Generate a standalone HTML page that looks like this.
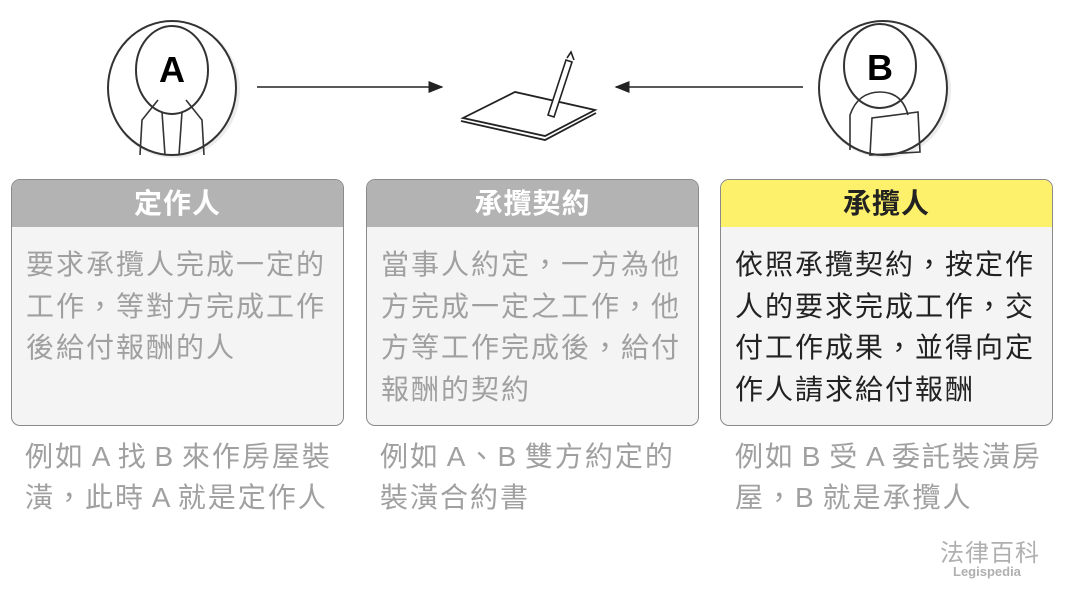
<!DOCTYPE html>
<html><head><meta charset="utf-8"><style>
body{margin:0;width:1065px;height:592px;background:#fff;position:relative;overflow:hidden;font-family:"Liberation Sans","Noto Sans CJK TC",sans-serif}
.box{position:absolute;top:179px;width:333px;height:247px;border:1.5px solid #8a8a8a;border-radius:9px;overflow:hidden;background:#f4f4f4;box-sizing:border-box}
.hd{height:47px;background:#b3b3b3;color:#fff;font-weight:bold;font-size:28px;text-align:center;line-height:47px;letter-spacing:1px}
.bd{padding:17px 0 0 14px;font-size:28px;line-height:41.5px;color:#a0a0a0;letter-spacing:2px}
.note{position:absolute;top:436px;font-size:28px;line-height:41px;color:#a0a0a0;letter-spacing:2px;word-spacing:-3px}
</style></head><body>
<svg width="1065" height="180" style="position:absolute;left:0;top:0">
<defs><marker id="ar" markerWidth="10" markerHeight="8" refX="9" refY="4" orient="auto"><path d="M0,0L10,4L0,8z" fill="#222"/></marker></defs>
<ellipse cx="174" cy="90" rx="66" ry="68" fill="#ececec"/>
<ellipse cx="172" cy="88" rx="64" ry="67" fill="#fff" stroke="#333" stroke-width="2"/>
<ellipse cx="172" cy="70" rx="36" ry="44" fill="#fff" stroke="#333" stroke-width="2"/>
<path d="M140,155 L142,120 L158,100 M204,155 L202,120 L186,100 M162,112 L165,155 M182,112 L179,155" fill="none" stroke="#333" stroke-width="1.6"/>
<text x="172" y="82" text-anchor="middle" font-size="36" font-weight="bold" fill="#000" font-family="Liberation Sans">A</text>
<ellipse cx="885" cy="90" rx="66" ry="68" fill="#ececec"/>
<ellipse cx="883" cy="88" rx="64" ry="67" fill="#fff" stroke="#333" stroke-width="2"/>
<ellipse cx="880" cy="66" rx="36" ry="42" fill="#fff" stroke="#333" stroke-width="2"/>
<path d="M850,150 L850,115 Q858,92 880,92 Q902,92 908,115 M872,118 L870,155 L920,152 L918,112 Z" fill="none" stroke="#333" stroke-width="1.6"/>
<text x="880" y="80" text-anchor="middle" font-size="36" font-weight="bold" fill="#000" font-family="Liberation Sans">B</text>
<line x1="257" y1="87" x2="442" y2="87" stroke="#222" stroke-width="1.5" marker-end="url(#ar)"/>
<line x1="803" y1="87" x2="616" y2="87" stroke="#222" stroke-width="1.5" marker-end="url(#ar)"/>
<path d="M463,118 L515,92 L595,110 L545,136 Z" fill="#fff" stroke="#222" stroke-width="1.8"/>
<path d="M461,121 L545,140 L596,113" fill="none" stroke="#222" stroke-width="1.8"/>
<path d="M548,115 L566,60 L572,62 L554,117 Z" fill="#fff" stroke="#222" stroke-width="1.6"/>
<path d="M567,58 L571,52 L574,60" fill="none" stroke="#222" stroke-width="1.6"/>
</svg>
<div class="box" style="left:11px"><div class="hd">定作人</div><div class="bd">要求承攬人完成一定的<br>工作，等對方完成工作<br>後給付報酬的人</div></div>
<div class="box" style="left:366px"><div class="hd">承攬契約</div><div class="bd">當事人約定，一方為他<br>方完成一定之工作，他<br>方等工作完成後，給付<br>報酬的契約</div></div>
<div class="box" style="left:720px"><div class="hd" style="background:#fdf06b;color:#222">承攬人</div><div class="bd" style="color:#222">依照承攬契約，按定作<br>人的要求完成工作，交<br>付工作成果，並得向定<br>作人請求給付報酬</div></div>
<div class="note" style="left:25px">例如 A 找 B 來作房屋裝<br>潢，此時 A 就是定作人</div>
<div class="note" style="left:380px">例如 A、B 雙方約定的<br>裝潢合約書</div>
<div class="note" style="left:735px">例如 B 受 A 委託裝潢房<br>屋，B 就是承攬人</div>
<div style="position:absolute;left:940px;top:533px;font-size:24px;color:#b0b0b0;letter-spacing:1px">法律百科</div>
<div style="position:absolute;left:953px;top:564px;font-size:13px;font-weight:bold;color:#b0b0b0">Legispedia</div>
</body></html>
